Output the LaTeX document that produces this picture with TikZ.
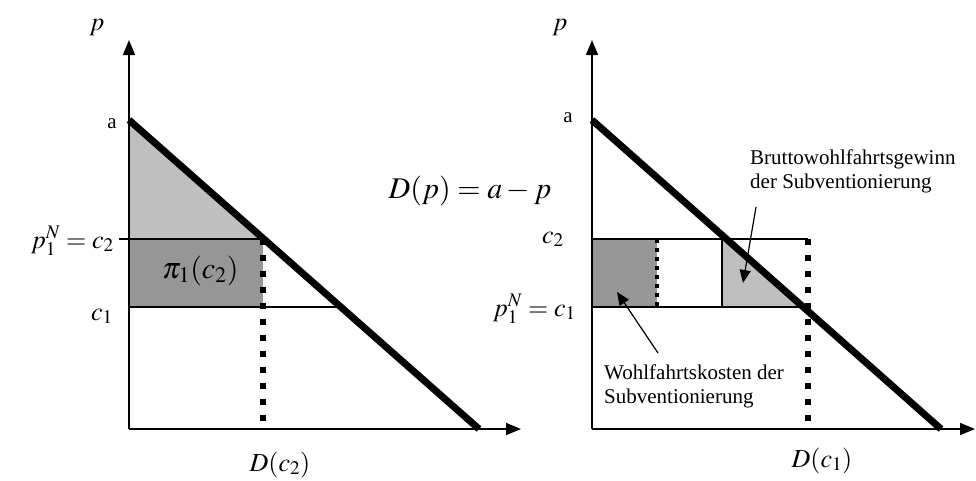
\documentclass[tikz,border=0pt]{standalone}
\usepackage{mathptmx}
\usepackage{fontspec}
\setmainfont{Liberation Serif}
\usetikzlibrary{arrows.meta,calc}

\begin{document}
\begin{tikzpicture}[x=1pt,y=-1pt,
  axis/.style={line width=1.6pt,-{Triangle[length=15pt,width=12pt]}},
  demand/.style={line width=7pt},
  thinline/.style={line width=1.5pt},
  dotline/.style={line width=6pt,dash pattern=on 6pt off 10pt},
  pointer/.style={line width=1.2pt,-{Triangle[length=13pt,width=11pt]}},
  lbl/.style={font=\fontsize{26}{30}\selectfont,inner sep=0pt},
  big/.style={font=\fontsize{30}{34}\selectfont,inner sep=0pt},
  tick/.style={font=\fontsize{21}{24}\selectfont,inner sep=0pt},
  note/.style={font=\fontsize{21}{24}\selectfont,align=left,inner sep=0pt}]
\useasboundingbox (0,0) rectangle (976,480);

% ---------- left panel ----------
\coordinate (O1) at (129,429);
\coordinate (Y1) at (129,40);
\coordinate (X1) at (521,429);
\coordinate (A1) at (129,120);
\coordinate (E1) at (479,429);
\coordinate (M1) at (263.8,239);
\coordinate (N1) at (340.8,307);
\coordinate (Q1) at (263,239);
\coordinate (Q1b) at (263,429);

% shaded areas
\fill[black!25] (A1) -- (M1) -- (129,239) -- cycle;
\fill[black!41] (129,239) rectangle (Q1|-N1);

% price lines
\draw[thinline] (119,239) -- (M1);
\draw[thinline] (129,307) -- (N1);
\draw[dotline] (Q1) -- (Q1b);

% axes
\draw[axis] (O1) -- (Y1);
\draw[axis] (O1) -- (X1);

% demand
\draw[demand] (A1) -- (E1);

\node[lbl,anchor=base] (p1) at (97,30) {$p$};
\node[tick,anchor=base] (a1) at (112,128) {a};
\node[lbl,anchor=base east] (pn1) at (114,248) {$p_1^N = c_2$};
\node[lbl,anchor=base] (c11) at (102,320) {$c_1$};
\node[big,anchor=base west] (pi1) at (162,278) {$\pi_1(c_2)$};
\node[big,anchor=base] (dp) at (470,198) {$D(p) = a - p$};
\node[lbl,anchor=base] (dc2) at (280,471) {$D(c_2)$};

% ---------- right panel ----------
\coordinate (O2) at (592,429);
\coordinate (Y2) at (592,40);
\coordinate (X2) at (975,429);
\coordinate (A2) at (592,120);
\coordinate (E2) at (941,429);
\coordinate (M2) at (726.4,239);
\coordinate (N2) at (803.2,307);
\coordinate (V2) at (722,239);
\coordinate (V2b) at (722,307);
\coordinate (R2) at (657,239);
\coordinate (R2b) at (657,307);
\coordinate (Q2) at (808,239);
\coordinate (Q2b) at (808,429);

% shaded areas
\fill[black!41] (592,239) rectangle (R2b);
\fill[black!25] (V2) -- (M2) -- (N2) -- (V2b) -- cycle;

% price lines
\draw[thinline] (592,239) -- (Q2);
\draw[thinline] (592,307) -- (N2);
\draw[thinline] (V2) -- (V2b);
\draw[line width=4pt,dash pattern=on 4pt off 5pt] (R2) -- (R2b);
\draw[dotline] (Q2) -- (Q2b);

% axes
\draw[axis] (O2) -- (Y2);
\draw[axis] (O2) -- (X2);

% demand
\draw[demand] (A2) -- (E2);

\node[lbl,anchor=base] (p2) at (560,30) {$p$};
\node[tick,anchor=base] (a2) at (568,122) {a};
\node[lbl,anchor=base] (c22) at (553,243) {$c_2$};
\node[lbl,anchor=base east] (pn2) at (576,316) {$p_1^N = c_1$};
\node[lbl,anchor=base] (dc1) at (822,467) {$D(c_1)$};

% notes
\node[note,anchor=north west] (gain) at (750,150) {Bruttowohlfahrtsgewinn\\der Subventionierung};
\node[note,anchor=north west] (cost) at (604,365) {Wohlfahrtskosten der\\Subventionierung};
\coordinate (gainfrom) at (756,207);
\coordinate (gainto) at (743,283);
\coordinate (costfrom) at (658,353);
\coordinate (costto) at (617,292);
\draw[pointer] (gainfrom) -- (gainto);
\draw[pointer] (costfrom) -- (costto);
\end{tikzpicture}
\end{document}
